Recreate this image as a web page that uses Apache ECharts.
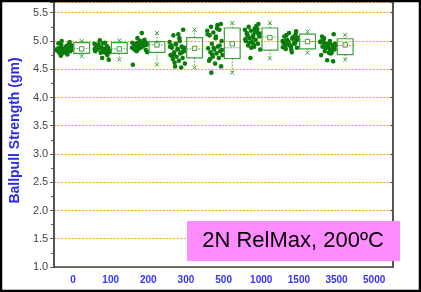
<!DOCTYPE html>
<html><head><meta charset="utf-8">
<script src="https://cdn.jsdelivr.net/npm/echarts@6/dist/echarts.min.js"></script>
<style>html,body{margin:0;padding:0;background:#fff}#c{width:421px;height:292px}</style>
</head><body><div id="c"></div>
<script>
// ---- data ----
const categories = ['0','100','200','300','500','1000','1500','3500','5000'];
const pts0    = [4.82,4.88,4.91,4.85,4.79,4.95,4.87,4.83,4.90,4.93,4.76,4.86,4.84,4.98,4.81,4.89,4.92,4.78,4.85,4.96,4.80,4.88,4.74,4.90,4.83,4.86,4.94,4.79,4.87,4.84,5.00,4.82];
const pts100  = [4.85,4.90,4.80,4.95,4.88,4.78,4.92,4.83,4.67,4.87,4.97,4.82,4.89,4.75,4.93,4.86,4.80,5.01,4.84,4.90,4.70,4.88,4.94,4.81,4.86,4.79,4.91,4.85,4.96,4.83];
const pts200  = [4.95,4.90,5.14,4.88,4.97,4.92,4.85,5.00,4.93,4.82,4.96,4.58,4.91,4.98,4.87,4.94,4.80,5.05,4.92,4.89,4.99,4.84,4.95,4.90,4.97,4.86,5.02,4.93,4.88,4.96];
const pts300  = [5.20,5.10,5.05,4.98,4.95,4.90,4.88,4.85,4.82,4.80,4.78,4.75,4.72,4.70,4.68,4.65,4.60,4.55,4.53,4.92,4.86,4.83,4.76,5.00,4.90,4.94,4.80,4.74,5.12,4.88,4.62];
const pts500  = [5.30,5.25,5.22,5.18,5.15,5.20,5.10,5.05,5.00,4.95,4.90,4.87,4.85,4.82,4.80,4.78,4.75,4.72,4.70,4.65,4.60,4.55,4.44,5.28,5.12,4.88,4.92,4.68,5.08,4.84,4.76];
const pts1000 = [5.30,5.25,5.22,5.20,5.18,5.15,5.12,5.10,5.08,5.05,5.02,5.00,4.98,4.95,4.92,4.90,4.85,4.70,5.27,5.14,5.06,5.11,4.97,5.16,5.03,4.88,5.21,5.09,4.94,5.13];
const pts1500 = [5.17,5.10,5.05,5.00,4.98,4.95,4.92,4.90,4.88,5.02,5.07,4.97,4.93,5.12,4.86,4.80,5.03,4.99,4.96,5.08,4.91,5.01,4.94,5.04,4.89,5.14,4.97,5.00,4.85,5.06];
const pts3500 = [5.12,5.05,5.00,4.98,4.95,4.93,4.90,4.88,4.85,4.82,4.78,4.75,4.66,4.64,5.02,4.97,4.92,4.87,4.80,5.08,4.94,4.90,4.96,4.84,4.99,4.91,4.86,5.03,4.79,4.95];
const pts5000 = [];
const pointSets = [pts0,pts100,pts200,pts300,pts500,pts1000,pts1500,pts3500,pts5000];
// box statistics per category (whisker low, Q1, median, Q3, whisker high, mean)
const boxLow  = [4.73,4.67,4.58,4.53,4.44,4.69,4.79,4.67];
const boxQ1   = [4.78,4.78,4.80,4.70,4.69,4.84,4.86,4.76];
const boxMed  = [4.87,4.86,4.93,4.86,4.88,5.07,4.99,4.92];
const boxQ3   = [4.97,4.97,4.99,5.06,5.23,5.23,5.12,5.04];
const boxHigh = [5.00,5.01,5.14,5.20,5.32,5.32,5.17,5.11];
const boxMean = [4.86,4.86,4.93,4.87,4.95,5.06,4.99,4.93];
const yTicks = [1.0,1.5,2.0,2.5,3.0,3.5,4.0,4.5,5.0,5.5];
const annotation = '2N RelMax, 200ºC';

// ---- build ----
const scatterData = [];
pointSets.forEach((arr, ci) => arr.forEach((v, k) => scatterData.push([ci, v, k])));
const boxData = boxLow.map((_, i) => [i, boxLow[i], boxQ1[i], boxMed[i], boxQ3[i], boxHigh[i], boxMean[i]]);

const ptColor = '#0a7d0a';
const boxColor = '#3f9f3f';

function renderScatter(params, api) {
  const c = api.coord([api.value(0), api.value(1)]);
  const band = api.size([1, 0])[0];
  const k = api.value(2);
  const frac = (k * 0.6180339 + 0.13) % 1;
  const x = c[0] - band * (0.02 + 0.42 * frac);
  return { type: 'circle', shape: { cx: x, cy: c[1], r: 2.3 }, style: { fill: ptColor } };
}

function renderBox(params, api) {
  const ci = api.value(0);
  const band = api.size([1, 0])[0];
  const base = api.coord([ci, api.value(1)]);
  const cx = base[0] + band * 0.23;
  const w = band * 0.42;
  const yLo = api.coord([ci, api.value(1)])[1];
  const yQ1 = api.coord([ci, api.value(2)])[1];
  const yMd = api.coord([ci, api.value(3)])[1];
  const yQ3 = api.coord([ci, api.value(4)])[1];
  const yHi = api.coord([ci, api.value(5)])[1];
  const yMn = api.coord([ci, api.value(6)])[1];
  const line = { stroke: boxColor, lineWidth: 1 };
  const dot = { stroke: boxColor, lineWidth: 1, lineDash: [1.5, 1.5] };
  const cross = (y) => ([
    { type: 'line', shape: { x1: cx - 2, y1: y - 2, x2: cx + 2, y2: y + 2 }, style: line },
    { type: 'line', shape: { x1: cx - 2, y1: y + 2, x2: cx + 2, y2: y - 2 }, style: line }
  ]);
  return {
    type: 'group',
    children: [
      { type: 'line', shape: { x1: cx, y1: yQ3, x2: cx, y2: yHi }, style: dot },
      { type: 'line', shape: { x1: cx, y1: yQ1, x2: cx, y2: yLo }, style: dot },
      { type: 'rect', shape: { x: cx - w / 2, y: yQ3, width: w, height: yQ1 - yQ3 }, style: { fill: 'rgba(255,255,255,0)', stroke: boxColor, lineWidth: 1.2 } },
      { type: 'line', shape: { x1: cx - w / 2, y1: yMd, x2: cx + w / 2, y2: yMd }, style: dot },
      { type: 'rect', shape: { x: cx - 2.2, y: yMn - 2.2, width: 4.4, height: 4.4 }, style: { fill: '#fff', stroke: boxColor, lineWidth: 1 } }
    ].concat(cross(yHi), cross(yLo))
  };
}

const chart = echarts.init(document.getElementById('c'), null, { renderer: 'canvas' });
const yMin = yTicks[0], yMax = 5.69;
const axisCol = '#555';
chart.setOption({
  animation: false,
  backgroundColor: '#fff',
  grid: { left: 53, right: 28, top: 2, bottom: 25 },
  xAxis: {
    type: 'category', data: categories, boundaryGap: true,
    axisLine: { lineStyle: { color: '#444', width: 1.5 } },
    axisTick: { alignWithLabel: true, length: 4, lineStyle: { color: '#444' } },
    axisLabel: { color: '#3333ff', fontWeight: 'bold', fontSize: 10, fontFamily: 'Liberation Sans, Arial', margin: 8 },
    splitLine: { show: false }
  },
  yAxis: [{
    type: 'value', min: yMin, max: yMax, interval: 0.5, position: 'left',
    name: 'Ballpull Strength (gm)', nameLocation: 'middle', nameGap: 24,
    nameTextStyle: { color: '#2a2aee', fontWeight: 'bold', fontSize: 14, fontFamily: 'Liberation Sans, Arial', padding: [0, 0, 0, 8] },
    axisLine: { show: true, lineStyle: { color: axisCol, width: 2 } },
    axisTick: { show: true, length: 4, lineStyle: { color: axisCol } },
    minorTick: { show: true, splitNumber: 2, length: 3, lineStyle: { color: axisCol } },
    axisLabel: {
      color: '#444', fontSize: 11, fontFamily: 'Liberation Sans, Arial', margin: 6,
      formatter: v => yTicks.some(t => Math.abs(t - v) < 1e-6) ? v.toFixed(1) : ''
    },
    splitLine: { show: true, lineStyle: { color: '#ff9a1a', type: [2, 1.5], width: 1 } }
  }, {
    type: 'value', min: yMin, max: yMax, interval: 0.5, position: 'right',
    axisLine: { show: true, lineStyle: { color: axisCol, width: 2 } },
    axisTick: { show: true, inside: true, length: 3, lineStyle: { color: axisCol } },
    minorTick: { show: false },
    axisLabel: { show: false },
    splitLine: { show: false }
  }],
  series: [
    { type: 'custom', renderItem: renderScatter, data: scatterData, encode: { x: 0, y: 1 }, z: 3 },
    { type: 'custom', renderItem: renderBox, data: boxData, encode: { x: 0, y: [1, 5] }, z: 4 }
  ],
  graphic: [
    { type: 'rect', z: 100, shape: { x: 187, y: 221, width: 213, height: 40 }, style: { fill: '#ff8cff' } },
    { type: 'text', z: 101, x: 293, y: 241, style: { text: annotation, fill: '#000', font: '22px "Liberation Sans", Arial', align: 'center', verticalAlign: 'middle' } },
    { type: 'rect', z: 102, shape: { x: 1, y: 1, width: 419, height: 290 }, style: { fill: 'none', stroke: '#000', lineWidth: 2.5 } }
  ]
});
</script>
</body></html>
